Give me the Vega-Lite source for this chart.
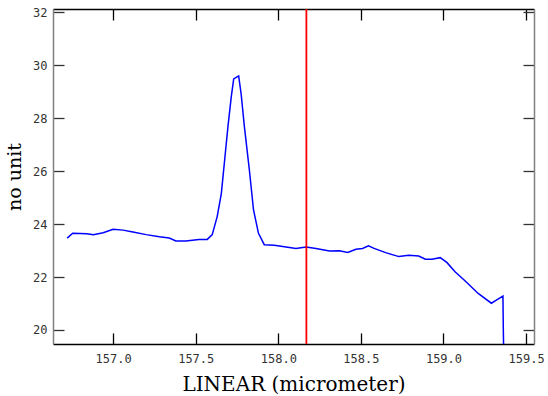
{
  "$schema": "https://vega.github.io/schema/vega-lite/v6.json",
  "autosize": {"type": "none"},
  "padding": {"left": 53, "top": 9, "right": 14, "bottom": 52},
  "width": 481,
  "height": 335,
  "background": "white",
  "config": {
    "view": {"stroke": null},
    "axis": {
      "grid": false,
      "tickSize": -11,
      "tickWidth": 1.3,
      "domainWidth": 1.5,
      "labelFont": "DejaVu Sans Mono",
      "labelFontSize": 12,
      "labelColor": "#333333",
      "titleFont": "DejaVu Serif",
      "titleFontWeight": "normal",
      "titleColor": "#000000"
    }
  },
  "datasets": {
    "curve": [
      {"x": 156.722, "y": 23.47}, {"x": 156.755, "y": 23.65}, {"x": 156.8, "y": 23.64},
      {"x": 156.84, "y": 23.63}, {"x": 156.88, "y": 23.6}, {"x": 156.94, "y": 23.67},
      {"x": 157.0, "y": 23.8}, {"x": 157.06, "y": 23.77}, {"x": 157.12, "y": 23.7},
      {"x": 157.2, "y": 23.6}, {"x": 157.28, "y": 23.52}, {"x": 157.34, "y": 23.47},
      {"x": 157.38, "y": 23.36}, {"x": 157.44, "y": 23.36}, {"x": 157.52, "y": 23.42},
      {"x": 157.57, "y": 23.42}, {"x": 157.6, "y": 23.6}, {"x": 157.63, "y": 24.28},
      {"x": 157.655, "y": 25.15}, {"x": 157.675, "y": 26.41}, {"x": 157.695, "y": 27.67},
      {"x": 157.715, "y": 28.79}, {"x": 157.73, "y": 29.48}, {"x": 157.745, "y": 29.54},
      {"x": 157.76, "y": 29.59}, {"x": 157.775, "y": 28.91}, {"x": 157.795, "y": 27.66},
      {"x": 157.825, "y": 26.03}, {"x": 157.85, "y": 24.53}, {"x": 157.88, "y": 23.65},
      {"x": 157.915, "y": 23.22}, {"x": 157.976, "y": 23.2}, {"x": 158.027, "y": 23.15},
      {"x": 158.107, "y": 23.08}, {"x": 158.168, "y": 23.13}, {"x": 158.228, "y": 23.08},
      {"x": 158.31, "y": 22.98}, {"x": 158.37, "y": 22.99}, {"x": 158.42, "y": 22.93},
      {"x": 158.47, "y": 23.05}, {"x": 158.51, "y": 23.08}, {"x": 158.546, "y": 23.18},
      {"x": 158.58, "y": 23.08}, {"x": 158.65, "y": 22.92}, {"x": 158.73, "y": 22.77},
      {"x": 158.79, "y": 22.82}, {"x": 158.85, "y": 22.79}, {"x": 158.89, "y": 22.67},
      {"x": 158.93, "y": 22.67}, {"x": 158.98, "y": 22.73}, {"x": 159.02, "y": 22.55},
      {"x": 159.07, "y": 22.2}, {"x": 159.13, "y": 21.86}, {"x": 159.21, "y": 21.38},
      {"x": 159.29, "y": 21.01}, {"x": 159.32, "y": 21.13}, {"x": 159.36, "y": 21.28},
      {"x": 159.362, "y": 20.12}, {"x": 159.365, "y": 19.0}
    ],
    "marker": [{"x": 158.17}]
  },
  "layer": [
    {
      "data": {"name": "curve"},
      "mark": {"type": "line", "color": "#0000ff", "strokeWidth": 1.5, "clip": true},
      "encoding": {
        "x": {
          "field": "x", "type": "quantitative",
          "scale": {"domain": [156.636, 159.548], "nice": false, "zero": false},
          "axis": {
            "orient": "bottom", "title": "LINEAR (micrometer)", "titleFontSize": 20,
            "titlePadding": 10, "values": [157.0, 157.5, 158.0, 158.5, 159.0, 159.5],
            "format": ".1f", "labelPadding": 20, "domainColor": "#000000", "tickColor": "#000000"
          }
        },
        "y": {
          "field": "y", "type": "quantitative",
          "scale": {"domain": [19.47, 32.12], "nice": false, "zero": false},
          "axis": {
            "orient": "left", "title": "no unit", "titleFontSize": 19,
            "titlePadding": 8, "values": [20, 22, 24, 26, 28, 30, 32],
            "format": "d", "labelPadding": 17, "domainColor": "#808080", "tickColor": "#333333"
          }
        }
      }
    },
    {
      "data": {"name": "marker"},
      "mark": {"type": "rule", "color": "#ff0000", "strokeWidth": 1.8},
      "encoding": {
        "x": {
          "field": "x", "type": "quantitative",
          "axis": {
            "orient": "top", "title": null, "labels": false,
            "values": [157.0, 157.5, 158.0, 158.5, 159.0, 159.5],
            "domainColor": "#000000", "tickColor": "#000000"
          }
        }
      }
    },
    {
      "data": {"name": "curve"},
      "mark": {"type": "point", "opacity": 0},
      "encoding": {
        "x": {"field": "x", "type": "quantitative", "axis": null},
        "y": {
          "field": "y", "type": "quantitative",
          "axis": {
            "orient": "right", "title": null, "labels": false,
            "values": [20, 22, 24, 26, 28, 30, 32],
            "domainColor": "#808080", "tickColor": "#333333"
          }
        }
      }
    }
  ],
  "resolve": {"axis": {"x": "independent", "y": "independent"}}
}
